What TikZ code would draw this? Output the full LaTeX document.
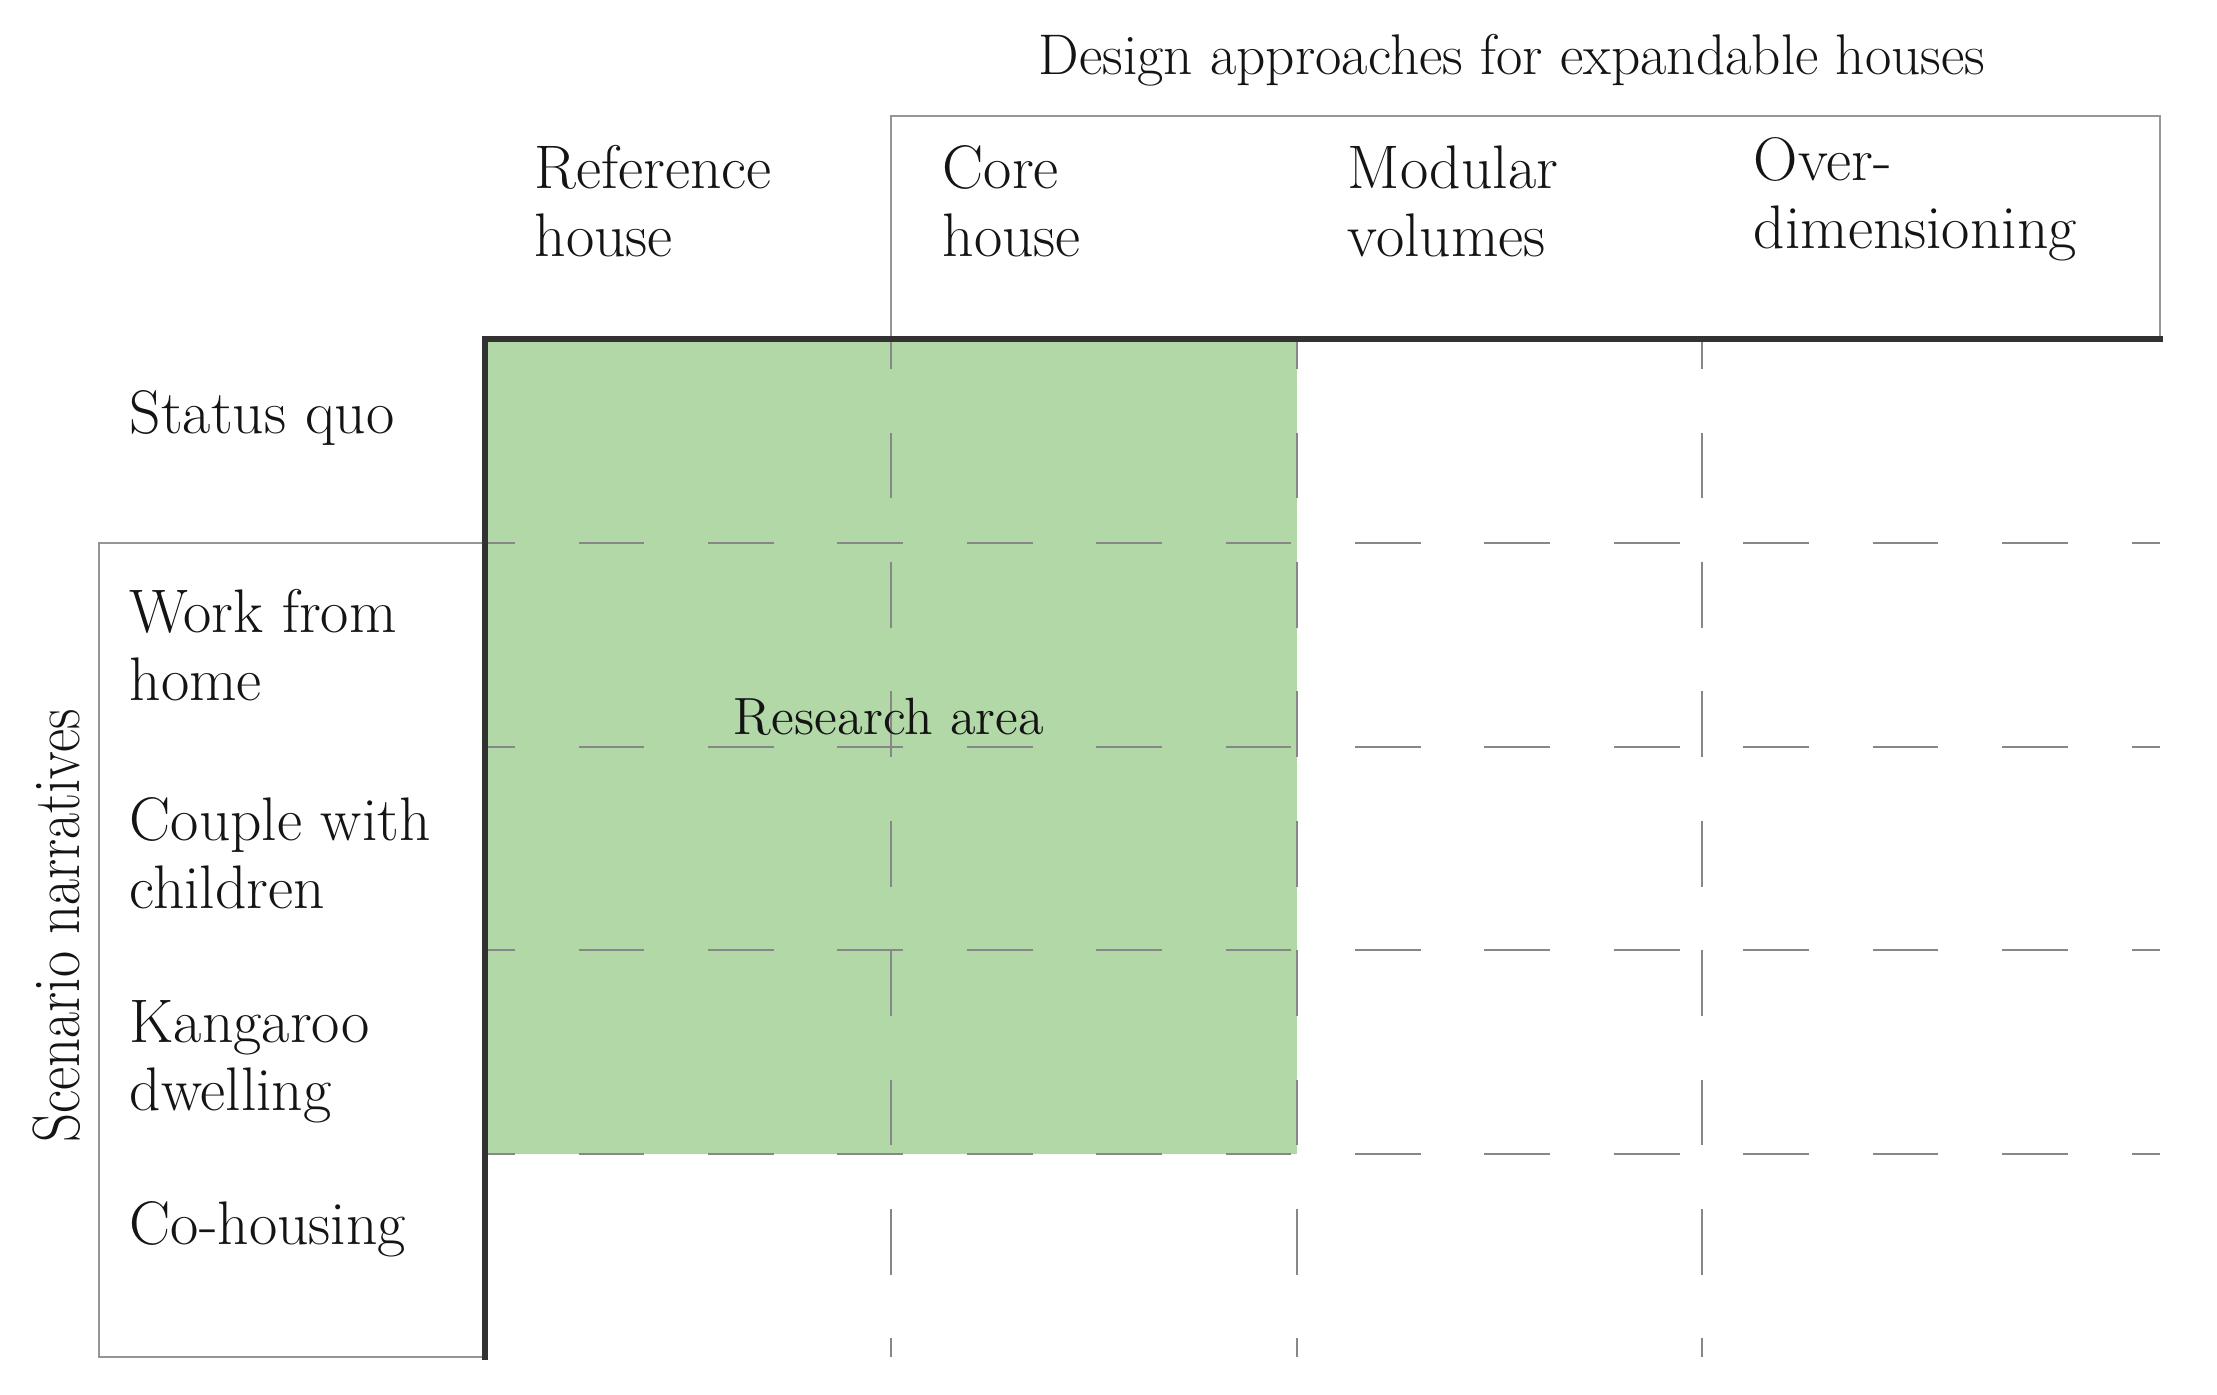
\documentclass[tikz,border=0pt]{standalone}
\definecolor{areagreen}{RGB}{178,216,168}
\definecolor{gridgray}{RGB}{135,135,135}
\definecolor{boxgray}{RGB}{150,150,150}
\definecolor{heavy}{RGB}{50,50,50}
\begin{document}
\begin{tikzpicture}[x=0.01cm,y=-0.01cm,
  lbl/.style={anchor=north west,inner sep=0pt,align=left,text=black!92,
    font=\fontsize{17.5}{19.3}\selectfont},
  gridline/.style={draw=gridgray,line width=0.6pt,
    dash pattern=on 18.7pt off 18.1pt,dash phase=10.2pt},
  boxline/.style={draw=boxgray,line width=0.7pt},
  heavyline/.style={draw=heavy,line width=1.5pt,line cap=rect}]
\useasboundingbox (0,0) rectangle (2217,1395);
\fill[white] (0,0) rectangle (2217,1395);
% research area
\fill[areagreen] (485,339) rectangle (1297,1154);
% boxes
\draw[boxline] (891,339) -- (891,116) -- (2160,116) -- (2160,339);
\draw[boxline] (485,543) -- (99,543) -- (99,1357) -- (485,1357);
% dashed grid
\foreach \yy in {543,747,950,1154}
  \draw[gridline] (485,\yy) -- (2160,\yy);
\foreach \xx in {891,1297,1702}
  \draw[gridline] (\xx,339) -- (\xx,1357);
% heavy axes
\draw[heavyline] (485,1357) -- (485,339) -- (2160,339);
% title
\node[font=\fontsize{16.3}{19}\selectfont,text=black!92] (title) at (1512,60) {Design approaches for expandable houses};
% column headers
\node[lbl] (ref) at (534,145) {Reference\\house};
\node[lbl] (core) at (942,145) {Core\\house};
\node[lbl] (mod) at (1347,145) {Modular\\volumes};
\node[lbl] (over) at (1753,137) {Over-\\dimensioning};
% row labels
\node[lbl] (sq) at (129,390) {Status quo};
\node[lbl] (wfh) at (129,589) {Work from\\home};
\node[lbl] (cwc) at (129,797) {Couple with\\children};
\node[lbl] (kd) at (129,1000) {Kangaroo\\dwelling};
\node[lbl] (coh) at (129,1201) {Co-housing};
% side label
\node[rotate=90,font=\fontsize{19}{22}\selectfont,text=black!92,inner sep=0pt] (scen) at (57,926) {\scalebox{0.85}[1]{Scenario narratives}};
% research area label
\node[font=\fontsize{14.9}{17}\selectfont,text=black!92] (ra) at (889,717) {Research area};
\end{tikzpicture}
\end{document}
